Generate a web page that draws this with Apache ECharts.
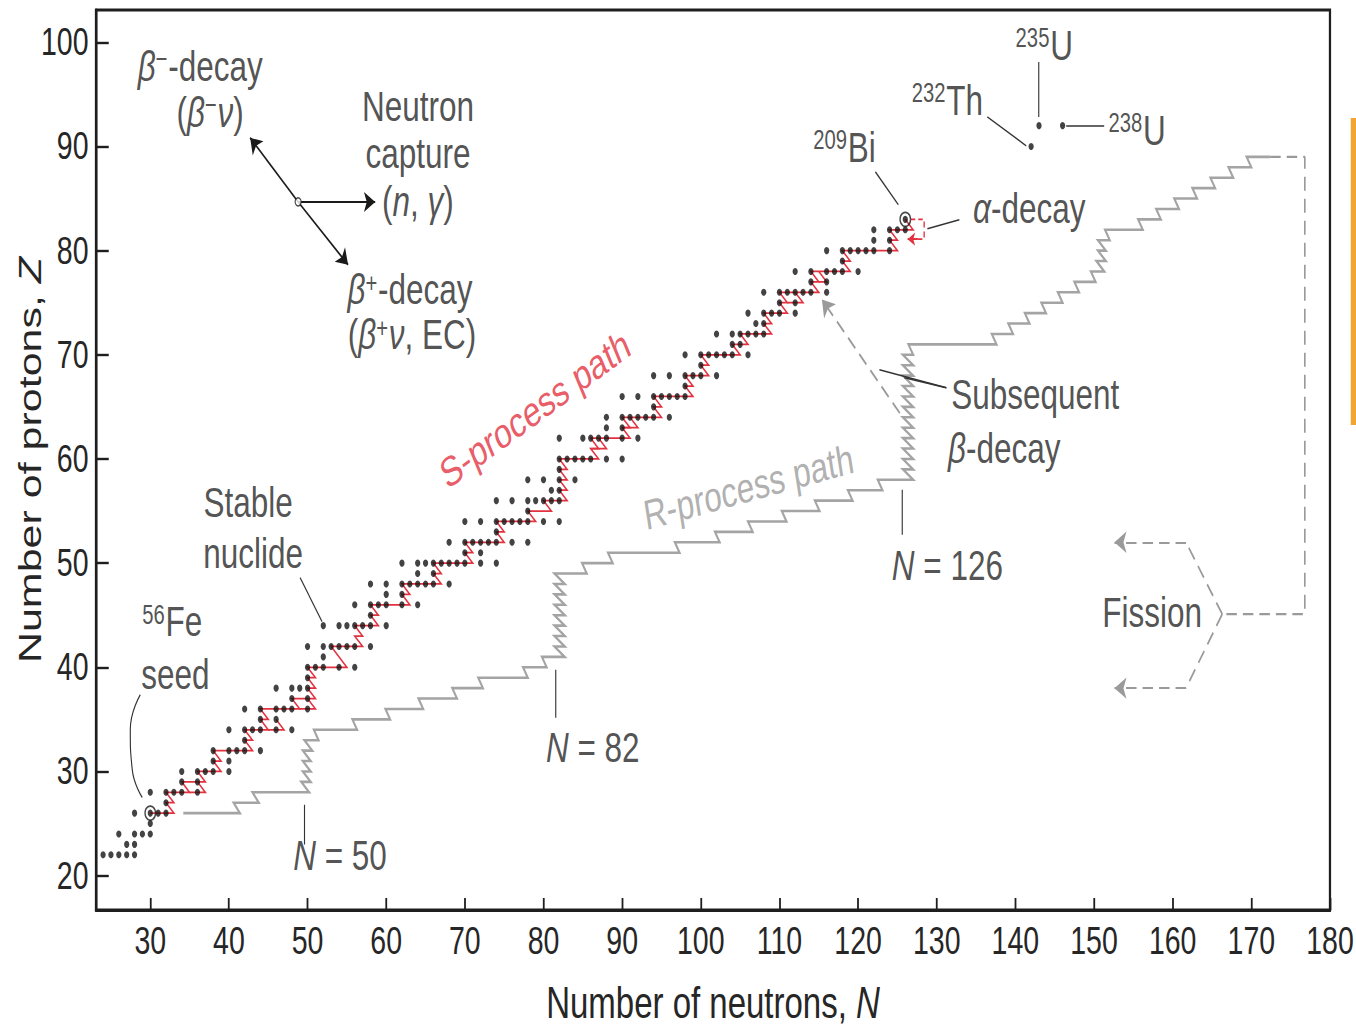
<!DOCTYPE html>
<html>
<head>
<meta charset="utf-8">
<script src="https://cdn.jsdelivr.net/npm/echarts@6/dist/echarts.min.js"></script>
<style>
html,body{margin:0;padding:0;background:#fff;overflow:hidden;width:1356px;height:1027px;}
#frame{width:1356px;height:1027px;overflow:hidden;position:relative;}
/* the figure is set in a condensed style: draw wide, then narrow it horizontally */
#chart{width:1808px;height:1027px;transform:scaleX(0.75);transform-origin:0 0;position:absolute;left:0;top:0;}
</style>
</head>
<body>
<div id="frame"><div id="chart"></div></div>
<script>
// Axis ticks
const xTicks = [30, 40, 50, 60, 70, 80, 90, 100, 110, 120, 130, 140, 150, 160, 170, 180];
const yTicks = [20, 30, 40, 50, 60, 70, 80, 90, 100];

// Stable nuclides: [Z, neutron numbers]
const stableNuclides = [
  [22, [24, 25, 26, 27, 28]],
  [23, [27, 28]],
  [24, [26, 28, 29, 30]],
  [25, [30]],
  [26, [28, 30, 31, 32]],
  [27, [32]],
  [28, [30, 32, 33, 34, 36]],
  [29, [34, 36]],
  [30, [34, 36, 37, 38, 40]],
  [31, [38, 40]],
  [32, [38, 40, 41, 42, 44]],
  [33, [42]],
  [34, [40, 42, 43, 44, 46, 48]],
  [35, [44, 46]],
  [36, [42, 44, 46, 47, 48, 50]],
  [37, [48, 50]],
  [38, [46, 48, 49, 50]],
  [39, [50]],
  [40, [50, 51, 52, 54, 56]],
  [41, [52]],
  [42, [50, 52, 53, 54, 55, 56, 58]],
  [44, [52, 54, 55, 56, 57, 58, 60]],
  [45, [58]],
  [46, [56, 58, 59, 60, 62, 64]],
  [47, [60, 62]],
  [48, [58, 60, 62, 63, 64, 65, 66, 68]],
  [49, [64, 66]],
  [50, [62, 64, 65, 66, 67, 68, 69, 70, 72, 74]],
  [51, [70, 72]],
  [52, [68, 70, 71, 72, 73, 74, 76, 78]],
  [53, [74]],
  [54, [70, 72, 74, 75, 76, 77, 78, 80, 82]],
  [55, [78]],
  [56, [74, 76, 78, 79, 80, 81, 82]],
  [57, [81, 82]],
  [58, [78, 80, 82, 84]],
  [59, [82]],
  [60, [82, 83, 84, 85, 86, 88, 90]],
  [62, [82, 85, 86, 87, 88, 90, 92]],
  [63, [88, 90]],
  [64, [88, 90, 91, 92, 93, 94, 96]],
  [65, [94]],
  [66, [90, 92, 94, 95, 96, 97, 98]],
  [67, [98]],
  [68, [94, 96, 98, 99, 100, 102]],
  [69, [100]],
  [70, [98, 100, 101, 102, 103, 104, 106]],
  [71, [104, 105]],
  [72, [102, 104, 105, 106, 107, 108]],
  [73, [107, 108]],
  [74, [106, 108, 109, 110, 112]],
  [75, [110, 112]],
  [76, [108, 110, 111, 112, 113, 114, 116]],
  [77, [114, 116]],
  [78, [112, 114, 116, 117, 118, 120]],
  [79, [118]],
  [80, [116, 118, 119, 120, 121, 122, 124]],
  [81, [122, 124]],
  [82, [122, 124, 125, 126]],
  [83, [126]]
];

// Long-lived actinides [N, Z]: 232Th, 235U, 238U
const actinides = [[142, 90], [143, 92], [146, 92]];

// Seed and end-point nuclei [N, Z]: 56Fe, 209Bi
const markedNuclei = [[30, 26], [126, 83]];

// Slow neutron-capture path [N, Z]
const sPath = [
  [30, 26], [33, 26], [32, 27], [33, 27], [32, 28], [35, 28], [34, 29], [37, 29],
  [36, 30], [39, 30], [38, 31], [39, 31], [38, 32], [43, 32], [42, 33], [43, 33],
  [42, 34], [45, 34], [44, 35], [45, 35], [44, 36], [49, 36], [48, 37], [51, 37],
  [50, 38], [51, 38], [50, 39], [51, 39], [50, 40], [55, 40], [54, 41], [53, 42],
  [57, 42], [56, 43], [57, 43], [56, 44], [59, 44], [58, 45], [59, 45], [58, 46],
  [63, 46], [62, 47], [63, 47], [62, 48], [67, 48], [66, 49], [67, 49], [66, 50],
  [71, 50], [70, 51], [71, 51], [70, 52], [75, 52], [74, 53], [75, 53], [74, 54],
  [79, 54], [78, 55], [81, 55], [80, 56], [83, 56], [82, 57], [83, 57], [82, 58],
  [83, 58], [82, 59], [83, 59], [82, 60], [87, 60], [86, 61], [87, 61], [86, 62],
  [91, 62], [90, 63], [91, 63], [90, 64], [95, 64], [94, 65], [95, 65], [94, 66],
  [99, 66], [98, 67], [99, 67], [98, 68], [101, 68], [100, 69], [101, 69], [100, 70],
  [105, 70], [104, 71], [106, 71], [105, 72], [109, 72], [108, 73], [109, 73], [108, 74],
  [111, 74], [110, 75], [111, 75], [110, 76], [115, 76], [114, 77], [115, 77], [114, 78],
  [119, 78], [118, 79], [119, 79], [118, 80], [125, 80], [124, 81], [125, 81], [124, 82],
  [127, 82], [126, 83]
];

// Branchings of the slow path [N, Z]
const sBranches = [
  [[35, 28], [37, 28], [36, 29]],
  [[45, 34], [47, 34], [46, 35]],
  [[49, 36], [51, 36], [50, 37]],
  [[86, 61], [88, 61], [87, 62]],
  [[90, 63], [92, 63], [91, 64]],
  [[111, 75], [113, 75], [112, 76]],
  [[115, 77], [116, 77], [115, 78]]
];

// Alpha-decay return loop from 209Bi [N, Z]
const alphaLoop = [[126.7, 83], [128.4, 83], [128.4, 81.1], [127.4, 81.1]];
const alphaArrow = [[127.6, 81.1], [126.3, 81.1]];

// Rapid neutron-capture path [N, Z]
const rPath = [
  [34.2, 26], [41.4, 26], [40.6, 27], [43.8, 27], [43.0, 28], [50.2, 28],
  [49.2, 29], [50.4, 29], [49.4, 30], [50.4, 30], [49.4, 31], [50.4, 31],
  [49.4, 32], [50.6, 32], [49.6, 33], [51.4, 33], [50.8, 34], [56.3, 34],
  [55.7, 35], [60.5, 35], [59.9, 36], [64.7, 36], [64.1, 37], [69.0, 37],
  [68.4, 38], [72.3, 38], [71.7, 39], [78.0, 39], [77.4, 40], [80.4, 40],
  [79.8, 41], [82.7, 41], [81.4, 42], [82.7, 42], [81.4, 43], [82.7, 43],
  [81.4, 44], [82.7, 44], [81.4, 45], [82.7, 45], [81.4, 46], [82.7, 46],
  [81.4, 47], [82.7, 47], [81.4, 48], [82.7, 48], [81.4, 49], [85.5, 49],
  [84.9, 50], [88.8, 50], [88.2, 51], [97.3, 51], [96.7, 52], [102.4, 52],
  [101.8, 53], [106.6, 53], [106.0, 54], [110.9, 54], [110.3, 55], [115.1, 55],
  [114.5, 56], [119.3, 56], [118.7, 57], [123.1, 57], [122.5, 58], [127.0, 58],
  [125.7, 59], [127.0, 59], [125.7, 60], [127.0, 60], [125.7, 61], [127.0, 61],
  [125.7, 62], [127.0, 62], [125.7, 63], [127.0, 63], [125.7, 64], [127.0, 64],
  [125.7, 65], [127.0, 65], [125.7, 66], [127.0, 66], [125.7, 67], [127.0, 67],
  [125.7, 68], [127.0, 68], [125.7, 69], [127.0, 69], [125.7, 70], [127.0, 70],
  [126.4, 71], [137.6, 71], [137.0, 72], [139.7, 72], [139.1, 73], [141.8, 73],
  [141.2, 74], [143.9, 74], [143.3, 75], [146.0, 75], [145.4, 76], [148.1, 76],
  [147.5, 77], [150.2, 77], [149.6, 78], [151.3, 78], [150.3, 79], [151.5, 79],
  [150.5, 80], [151.5, 80], [150.5, 81], [152.0, 81], [151.4, 82], [156.2, 82],
  [155.6, 83], [158.5, 83], [157.9, 84], [160.8, 84], [160.2, 85], [163.1, 85],
  [162.5, 86], [165.4, 86], [164.8, 87], [167.7, 87], [167.1, 88], [170.0, 88],
  [169.4, 89], [172.4, 89]
];

// Fission return [N, Z]
const fissionLoop = [[172.4, 89], [176.8, 89], [176.8, 45.1], [166.3, 45.1]];
const fissionUpper = [[166.3, 45.1], [161.7, 52.0]];
const fissionLower = [[166.3, 45.1], [161.7, 38.0]];
const fissionArrows = [
  [[161.7, 52.0], [152.6, 52.0]],
  [[161.7, 38.0], [152.6, 38.0]]
];

// Subsequent beta-decay arrow [N, Z]
const betaArrow = [[125.3, 64.4], [115.4, 75.3]];

// Decay-mode key: origin and arrow tips [N, Z]
const keyOrigin = [48.8, 84.68];
const keyTips = [[58.6, 84.68], [42.7, 90.83], [55.15, 78.64]];

// Leader lines [N, Z]
const leaders = [
  [[49.05, 48.6], [51.84, 44.38]],
  [[122.2, 87.56], [125.12, 84.4]],
  [[128.81, 82.09], [132.87, 82.96]],
  [[136.43, 92.84], [141.38, 90.06]],
  [[142.9, 98.12], [142.9, 92.84]],
  [[146.46, 92.0], [151.29, 92.0]],
  [[131.22, 66.83], [122.71, 68.56]],
  [[131.22, 66.83], [125.89, 67.79]],
  [[125.63, 57.04], [125.63, 52.73]],
  [[81.56, 39.77], [81.56, 35.16]],
  [[49.56, 26.81], [49.56, 22.98]]
];
const seedLeader = [[28.73, 37.37], [27.46, 34.01], [27.71, 30.17], [28.98, 27.49]];

// Text annotations [N, Z, text]
const notes = [
  [36.35, 97.74, '{i|β}{sup|−}-decay'],
  [37.62, 93.32, '({i|β}{sup|−}{i|ν})'],
  [64.04, 93.9, 'Neutron'],
  [64.04, 89.39, 'capture'],
  [64.04, 84.78, '({i|n}, {i|γ})'],
  [63.02, 76.24, '{i|β}{sup|+}-decay'],
  [63.27, 71.92, '({i|β}{sup|+}{i|ν}, EC)'],
  [42.45, 55.8, 'Stable'],
  [43.08, 50.9, 'nuclide'],
  [32.79, 44.38, '{sup|56}Fe'],
  [33.18, 39.29, 'seed'],
  [118.27, 89.96, '{sup|209}Bi'],
  [141.76, 84.11, '{i|α}-decay'],
  [131.35, 94.47, '{sup|232}Th'],
  [143.67, 99.75, '{sup|235}U'],
  [155.47, 91.59, '{sup|238}U'],
  [142.52, 66.16, 'Subsequent'],
  [138.59, 60.98, '{i|β}-decay'],
  [131.35, 49.75, '{i|N} = 126'],
  [86.26, 32.28, '{i|N} = 82'],
  [54.13, 21.92, '{i|N} = 50'],
  [157.38, 45.24, 'Fission']
];
// [N, Z, text, rotation]
const pathTitles = [
  [78.9, 64.8, 'S-process path', 28.8],
  [106.07, 57.33, 'R-process path', 11.8]
];

const FONT = '"Liberation Sans",Arial,Helvetica,sans-serif';
const INK = '#262626';
const RED = '#e2323f';
const GREY = '#a4a4a4';
const DASH = '#9a9a9a';

const stablePoints = [];
stableNuclides.forEach(([z, ns]) => ns.forEach(n => stablePoints.push([n, z])));

const richText = {
  i: { fontStyle: 'italic' },
  sup: { fontSize: 27, verticalAlign: 'top', padding: [0, 1, 0, 0] }
};

function segLines(name, segs, style, arrowSize) {
  return {
    name: name,
    type: 'lines',
    coordinateSystem: 'cartesian2d',
    polyline: false,
    silent: true,
    symbol: arrowSize ? ['none', 'arrow'] : ['none', 'none'],
    symbolSize: arrowSize || 0,
    lineStyle: Object.assign({ opacity: 1, curveness: 0 }, style),
    data: segs.map(s => ({ coords: s })),
    z: 4
  };
}

function path(name, pts, style, extra) {
  return Object.assign({
    name: name,
    type: 'line',
    data: pts,
    symbol: 'none',
    silent: true,
    clip: false,
    lineStyle: style,
    z: 3
  }, extra || {});
}

const chart = echarts.init(document.getElementById('chart'), null, { renderer: 'svg', width: 1808, height: 1027 });

chart.setOption({
  animation: false,
  backgroundColor: '#ffffff',
  grid: {
    left: 128, right: 34.7, top: 10, bottom: 117,
    outerBoundsMode: 'none',
    containLabel: false,
    show: true, borderColor: '#1e1e1e', borderWidth: 3, backgroundColor: 'transparent'
  },
  xAxis: {
    type: 'value',
    min: 23.1,
    max: 180,
    name: '{t|Number of neutrons, }{ti|N}',
    nameLocation: 'middle',
    nameGap: 71,
    nameMoveOverlap: false,
    nameTextStyle: {
      rich: {
        t: { fontFamily: FONT, fontSize: 44, color: INK },
        ti: { fontFamily: FONT, fontSize: 44, color: INK, fontStyle: 'italic' }
      }
    },
    axisLine: { show: true, lineStyle: { color: '#1e1e1e', width: 3 } },
    axisTick: { show: true, inside: true, length: 12, customValues: xTicks, lineStyle: { color: '#1e1e1e', width: 2.4 } },
    axisLabel: { customValues: xTicks, margin: 12, fontFamily: FONT, fontSize: 38, color: INK },
    splitLine: { show: false }
  },
  yAxis: {
    type: 'value',
    min: 16.7,
    max: 103.1,
    name: '{t|Number of protons, }{ti|Z}',
    nameLocation: 'middle',
    nameGap: 67,
    nameMoveOverlap: false,
    nameTextStyle: {
      rich: {
        t: { fontFamily: FONT, fontSize: 43, color: INK },
        ti: { fontFamily: FONT, fontSize: 43, color: INK, fontStyle: 'italic' }
      }
    },
    axisLine: { show: true, lineStyle: { color: '#1e1e1e', width: 3 } },
    axisTick: { show: true, inside: true, length: 17, customValues: yTicks, lineStyle: { color: '#1e1e1e', width: 2.4 } },
    axisLabel: { customValues: yTicks, margin: 10, fontFamily: FONT, fontSize: 38, color: INK },
    splitLine: { show: false }
  },
  graphic: [
    { type: 'rect', shape: { x: 1801, y: 118, width: 7, height: 307 }, style: { fill: '#f2a531' }, silent: true }
  ],
  series: [
    path('R-process', rPath, { color: GREY, width: 2.6, join: 'miter' }),
    path('Fission return', fissionLoop, { color: DASH, width: 2.2, type: [14, 8] }),
    path('Fission upper', fissionUpper, { color: DASH, width: 2.2, type: [14, 8] }),
    path('Fission lower', fissionLower, { color: DASH, width: 2.2, type: [14, 8] }),
    segLines('Fission arrows', fissionArrows, { color: DASH, width: 2.2, type: [14, 8] }, [12, 16]),
    segLines('Beta arrow', [betaArrow], { color: DASH, width: 2.2, type: [14, 8] }, [12, 16]),
    path('S-process', sPath, { color: RED, width: 1.8, join: 'miter' })
  ].concat(sBranches.map((b, i) => path('S branch ' + i, b, { color: RED, width: 1.8, join: 'miter' }))).concat([
    path('Alpha loop', alphaLoop, { color: RED, width: 1.8, type: [6, 4] }),
    segLines('Alpha arrow', [alphaArrow], { color: RED, width: 1.8 }, [8, 10]),
    {
      name: 'Stable nuclides',
      type: 'scatter',
      data: stablePoints.concat(actinides),
      symbol: 'circle',
      symbolSize: 7,
      itemStyle: { color: '#141414' },
      silent: true,
      z: 5
    },
    {
      name: 'Marked nuclei',
      type: 'scatter',
      data: markedNuclei,
      symbol: 'circle',
      symbolSize: 14,
      itemStyle: { color: 'rgba(255,255,255,0)', borderColor: '#1a1a1a', borderWidth: 1.8 },
      silent: true,
      z: 6
    },
    segLines('Key arrows', keyTips.map(t => [keyOrigin, t]), { color: '#1a1a1a', width: 2 }, [11, 15]),
    {
      name: 'Key origin',
      type: 'scatter',
      data: [keyOrigin],
      symbol: 'circle',
      symbolSize: 8,
      itemStyle: { color: '#ffffff', borderColor: '#1a1a1a', borderWidth: 1.5 },
      silent: true,
      z: 7
    },
    segLines('Leaders', leaders, { color: '#333333', width: 1.5 }, 0),
    path('Seed leader', seedLeader, { color: '#333333', width: 1.5 }, { smooth: 0.5 }),
    {
      name: 'Annotations',
      type: 'scatter',
      symbolSize: 0,
      silent: true,
      clip: false,
      z: 8,
      data: notes.map(n => ({ value: [n[0], n[1]], t: n[2] })),
      label: {
        show: true,
        position: 'inside',
        align: 'center',
        verticalAlign: 'middle',
        fontFamily: FONT,
        fontSize: 42,
        color: INK,
        formatter: p => p.data.t,
        rich: richText
      }
    },
    {
      name: 'Path titles',
      type: 'scatter',
      symbolSize: 0,
      silent: true,
      clip: false,
      z: 8,
      data: pathTitles.map((n, i) => ({
        value: [n[0], n[1]],
        t: n[2],
        label: { rotate: n[3], color: i === 0 ? RED : '#9c9c9c' }
      })),
      label: {
        show: true,
        position: 'inside',
        align: 'center',
        verticalAlign: 'middle',
        fontFamily: FONT,
        fontSize: 42,
        formatter: p => p.data.t
      }
    }
  ])
});
</script>
</body>
</html>
